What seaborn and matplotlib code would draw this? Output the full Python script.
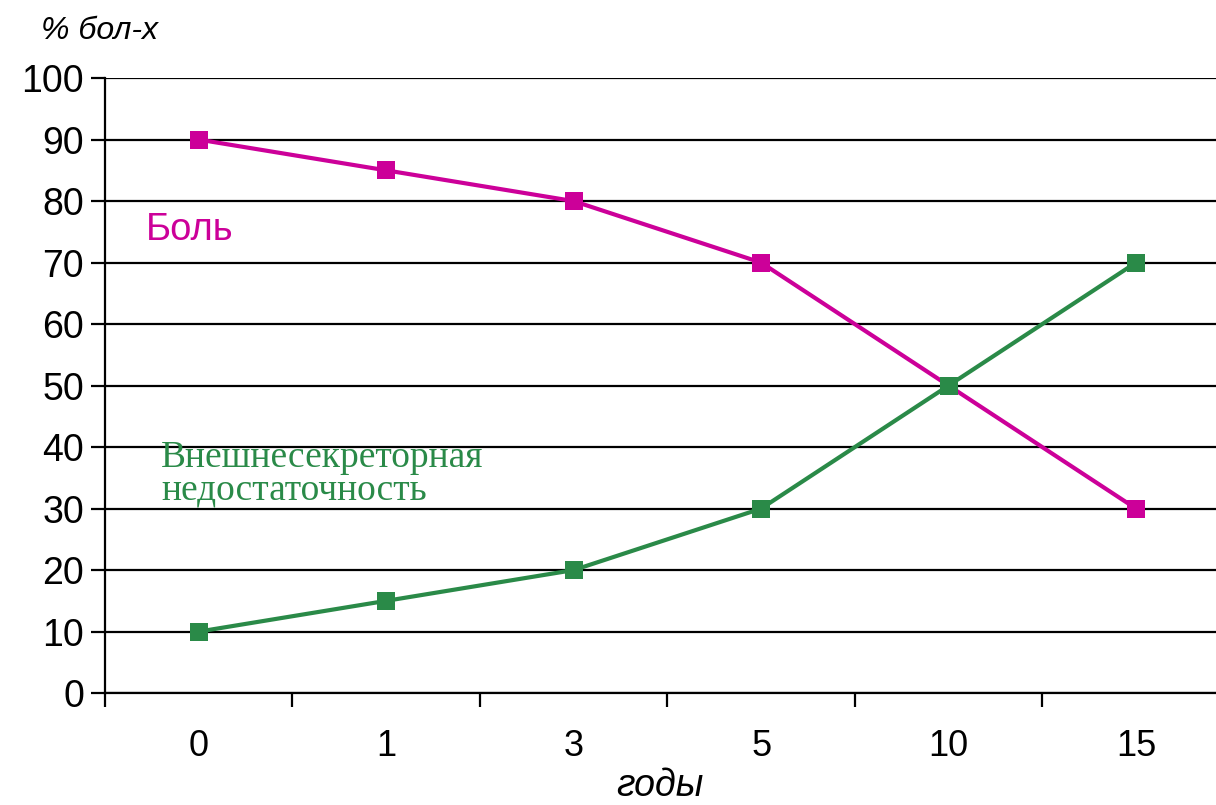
import pandas as pd
import seaborn as sns
import matplotlib.pyplot as plt
from matplotlib.ticker import FixedLocator

years = ['0', '1', '3', '5', '10', '15']
pain = [90, 85, 80, 70, 50, 30]
insufficiency = [10, 15, 20, 30, 50, 70]
pain_name = 'Боль'
insuf_name = 'Внешнесекреторная\nнедостаточность'

df = pd.DataFrame({
    'годы': years * 2,
    'value': pain + insufficiency,
    'series': [pain_name] * len(years) + [insuf_name] * len(years),
})

sns.set_theme(style='white')
plt.rcParams['font.family'] = ['Liberation Sans', 'DejaVu Sans']
plt.rcParams['text.color'] = 'black'
plt.rcParams['axes.labelcolor'] = 'black'

magenta = '#CC0099'
green = '#2A8A48'

fig = plt.figure(figsize=(12.16, 8.05), dpi=100)
# axes runs a little past the right edge of the figure, like the original
ax = fig.add_axes([0.0863, 0.139, 0.925, 0.764])

sns.lineplot(data=df, x='годы', y='value', hue='series', marker='s',
             palette={pain_name: magenta, insuf_name: green},
             linewidth=3, markersize=13.5, markeredgewidth=0,
             legend=False, ax=ax, zorder=3)

ax.set_xlim(-0.5, len(years) - 0.5)
ax.set_ylim(0, 100)
ax.set_yticks(range(0, 101, 10))
ax.yaxis.grid(True, color='black', linewidth=1.6)
ax.set_axisbelow(True)

ax.set_xticks(range(len(years)))
ax.set_xticklabels(years)
ax.xaxis.set_minor_locator(FixedLocator([i - 0.5 for i in range(len(years) + 1)]))
ax.tick_params(axis='x', which='major', length=0, labelsize=26, pad=26, colors='black')
ax.tick_params(axis='x', which='minor', length=10, width=1.6, direction='out', bottom=True, color='black')
ax.tick_params(axis='y', length=10, width=1.6, direction='out', left=True, labelsize=27, pad=5, colors='black')

for s in ['top', 'right']:
    ax.spines[s].set_visible(False)
for s in ['left', 'bottom']:
    ax.spines[s].set_color('black')
    ax.spines[s].set_linewidth(1.6)

ax.set_xlabel('')
ax.set_ylabel('')
fig.text(0.543, 0.024, 'годы', fontsize=27, style='italic', va='center', ha='center')
fig.text(0.034, 0.962, '% бол-х', fontsize=23, style='italic', va='center', ha='left')

ax.text(-0.28, 75.3, pain_name, color=magenta, fontsize=27.5, va='center')
ax.text(-0.2, 35.6, insuf_name, color=green, fontsize=27, va='center',
        family='Liberation Serif', linespacing=0.95)

fig.savefig('out.png', dpi=100)
